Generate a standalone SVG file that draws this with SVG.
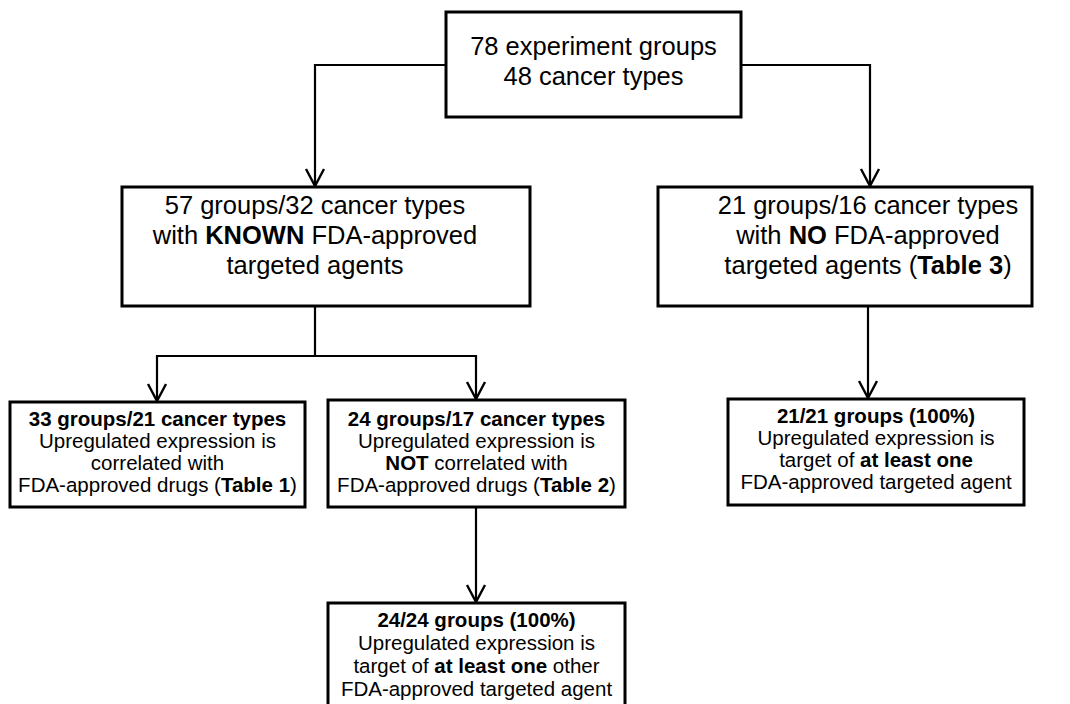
<svg xmlns="http://www.w3.org/2000/svg" width="1070" height="704" viewBox="0 0 1070 704">
<style>
.box{fill:#fff;stroke:#000;stroke-width:3}
.con{fill:none;stroke:#000;stroke-width:2.2}
.big{font-family:"Liberation Sans",Arial,sans-serif;font-size:25.5px;text-anchor:middle;fill:#000}
.sm{font-family:"Liberation Sans",Arial,sans-serif;font-size:20.5px;text-anchor:middle;fill:#000}
.b{font-weight:bold}
</style>
<defs>
<marker id="arr" viewBox="-20 -11 22 22" refX="0" refY="0" markerWidth="22" markerHeight="22" markerUnits="userSpaceOnUse" orient="auto">
<path d="M-17,-9 L0,0 L-17,9" fill="none" stroke="#000" stroke-width="2.4"/>
</marker>
</defs>
<g id="connectors">
<polyline class="con" points="446,65 315,65 315,186" marker-end="url(#arr)"/>
<polyline class="con" points="741,65 870,65 870,186" marker-end="url(#arr)"/>
<polyline class="con" points="315,306 315,356 157,356 157,401" marker-end="url(#arr)"/>
<polyline class="con" points="315,356 476,356 476,399" marker-end="url(#arr)"/>
<line class="con" x1="868" y1="306" x2="868" y2="398" marker-end="url(#arr)"/>
<line class="con" x1="476" y1="507" x2="476" y2="602" marker-end="url(#arr)"/>
</g>
<g id="n0">
<rect class="box" x="446" y="12" width="295" height="105"/>
<text class="big" x="593.5" y="55">78 experiment groups</text>
<text class="big" x="593.5" y="85">48 cancer types</text>
</g>
<g id="n1">
<rect class="box" x="122" y="187" width="408" height="119"/>
<text class="big" x="315" y="214">57 groups/32 cancer types</text>
<text class="big" x="315" y="244">with <tspan class="b">KNOWN</tspan> FDA-approved</text>
<text class="big" x="315" y="274">targeted agents</text>
</g>
<g id="n2">
<rect class="box" x="658" y="187" width="374" height="119"/>
<text class="big" x="868" y="214">21 groups/16 cancer types</text>
<text class="big" x="868" y="244">with <tspan class="b">NO</tspan> FDA-approved</text>
<text class="big" x="868" y="274">targeted agents (<tspan class="b">Table 3</tspan>)</text>
</g>
<g id="n3">
<rect class="box" x="10" y="402" width="295" height="105"/>
<text class="sm b" x="157.5" y="426">33 groups/21 cancer types</text>
<text class="sm" x="157.5" y="448">Upregulated expression is</text>
<text class="sm" x="157.5" y="470">correlated with</text>
<text class="sm" x="157.5" y="492">FDA-approved drugs (<tspan class="b">Table 1</tspan>)</text>
</g>
<g id="n4">
<rect class="box" x="328" y="400" width="297" height="107"/>
<text class="sm b" x="476.5" y="426">24 groups/17 cancer types</text>
<text class="sm" x="476.5" y="448">Upregulated expression is</text>
<text class="sm" x="476.5" y="470"><tspan class="b">NOT</tspan> correlated with</text>
<text class="sm" x="476.5" y="492">FDA-approved drugs (<tspan class="b">Table 2</tspan>)</text>
</g>
<g id="n5">
<rect class="box" x="728" y="399" width="296" height="106"/>
<text class="sm b" x="876" y="423">21/21 groups (100%)</text>
<text class="sm" x="876" y="445">Upregulated expression is</text>
<text class="sm" x="876" y="467">target of <tspan class="b">at least one</tspan></text>
<text class="sm" x="876" y="489">FDA-approved targeted agent</text>
</g>
<g id="n6">
<rect class="box" x="328" y="603" width="297" height="107"/>
<text class="sm b" x="476.5" y="627">24/24 groups (100%)</text>
<text class="sm" x="476.5" y="650">Upregulated expression is</text>
<text class="sm" x="476.5" y="673">target of <tspan class="b">at least one</tspan> other</text>
<text class="sm" x="476.5" y="696">FDA-approved targeted agent</text>
</g>
</svg>
